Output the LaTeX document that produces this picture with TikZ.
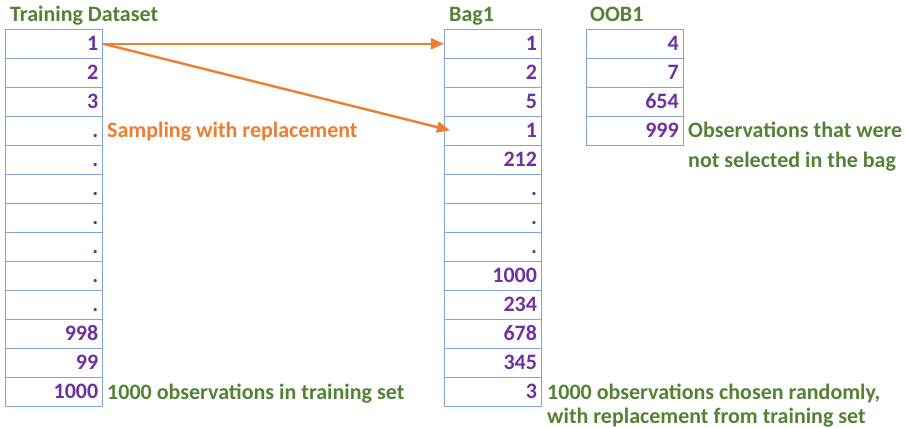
\documentclass[tikz,border=0pt]{standalone}
\usepackage{fontspec}
\setmainfont{Carlito}
\usetikzlibrary{arrows.meta}
\definecolor{cellline}{RGB}{132,160,220}
\definecolor{numpurple}{RGB}{112,48,160}
\definecolor{notegreen}{RGB}{84,130,53}
\definecolor{arroworange}{RGB}{237,125,49}
\tikzset{
  txt/.style={font=\bfseries\fontsize{22}{29}\selectfont, inner sep=0pt},
  cell/.style={draw=cellline, line width=1.2pt, txt, text=numpurple,
    minimum height=29pt, text width=88pt, align=right,
    text height=14pt, text depth=0pt, inner xsep=4.5pt},
  title/.style={txt, text=notegreen, anchor=base west},
  note/.style={txt, text=notegreen, anchor=base west, align=left},
  sample/.style={draw=arroworange, line width=2.4pt,
    -{Triangle[length=13pt,width=11pt]}},
}
\begin{document}
\begin{tikzpicture}[x=1pt,y=-1pt]
  \useasboundingbox (0,0) rectangle (906,428);
  \fill[white] (0,0) rectangle (906,428);

  % column headings
  \node[title] (htrain) at (10,22) {Training Dataset};
  \node[title] (hbag) at (449,22) {Bag1};
  \node[title] (hoob) at (590,22) {OOB1};

  % training dataset column
  \foreach \v [count=\i] in {1,2,3,.,.,.,.,.,.,.,998,99,1000}
    \node[cell] (t\i) at (54.25, {29.3+14.5+(\i-1)*29}) {\v};

  % bag column
  \foreach \v [count=\i] in {1,2,5,1,212,.,.,.,1000,234,678,345,3}
    \node[cell] (b\i) at (493, {29.3+14.5+(\i-1)*29}) {\v};

  % out-of-bag column
  \foreach \v [count=\i] in {4,7,654,999}
    \node[cell] (o\i) at (634.75, {29.3+14.5+(\i-1)*29}) {\v};

  % sampling arrows
  \draw[sample] (t1.east) -- (b1.west);
  \draw[sample] (t1.east) -- ([xshift=6pt,yshift=0.5pt]b4.west);

  % annotations (base anchor of a two-line note sits on its last line)
  \node[txt, text=arroworange, anchor=base west] (samp) at (107,138)
    {Sampling with replacement};
  \node[note] (ntrain) at (107,399) {1000 observations in training set};
  \node[note, font=\bfseries\fontsize{22}{29}\selectfont] (noob) at (688,167)
    {Observations that were\\not selected in the bag};
  \node[note, font=\bfseries\fontsize{22}{24}\selectfont] (nbag) at (547,423.5)
    {1000 observations chosen randomly,\\with replacement from training set};
\end{tikzpicture}
\end{document}
